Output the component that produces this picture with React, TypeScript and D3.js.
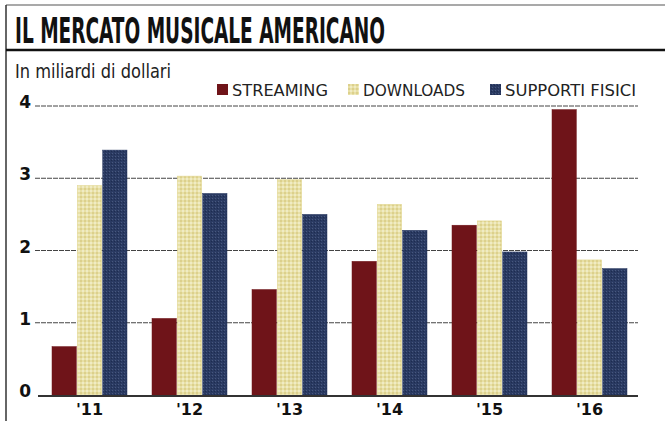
import React from "react";
import * as d3 from "d3";

const years = ["'11", "'12", "'13", "'14", "'15", "'16"];
const series = ["STREAMING", "DOWNLOADS", "SUPPORTI FISICI"];
const streaming = [0.67, 1.06, 1.46, 1.85, 2.35, 3.95];
const downloads = [2.9, 3.03, 2.98, 2.64, 2.41, 1.87];
const supporti = [3.39, 2.79, 2.5, 2.28, 1.98, 1.75];
const yTicks = [0, 1, 2, 3, 4];
const colors = ["#6f1419", "#e4d995", "#2a3a62"];
const fills = ["#6f1419", "url(#pat-dl)", "url(#pat-sf)"];

const W = 665;
const H = 421;
const NARROW = "'Liberation Sans Narrow', 'Arial Narrow', 'DejaVu Sans Condensed', 'Roboto', sans-serif";

export default function App() {
  const values = [streaming, downloads, supporti];
  const x = d3.scaleBand<string>().domain(years).range([27, 652]).paddingInner(0.25).paddingOuter(0.25);
  const xs = d3.scaleBand<string>().domain(series).range([0, x.bandwidth()]).paddingInner(0.04);
  const y = d3.scaleLinear().domain([0, 4]).range([395, 106]);

  const legendX = [217, 348, 490];
  const legendW = [96, 102, 131];

  return (
    <svg width={W} height={H} style={{ position: "absolute", left: 0, top: 0, background: "#fff" }}>
      <defs>
        <pattern id="pat-dl" width="4" height="4" patternUnits="userSpaceOnUse">
          <rect width="4" height="4" fill="#e8e0a6" />
          <rect width="2" height="2" fill="#dcd08c" />
          <rect x="2" y="2" width="2" height="2" fill="#f0ebc4" />
        </pattern>
        <pattern id="pat-sf" width="3" height="3" patternUnits="userSpaceOnUse">
          <rect width="3" height="3" fill="#2a3a62" />
          <rect width="1" height="1" fill="#48587e" />
          <rect x="2" y="1" width="1" height="1" fill="#1e2c4f" />
        </pattern>
      </defs>
      <rect width={W} height={H} fill="#fff" />
      {/* frame */}
      <line x1={6} x2={W} y1={5} y2={5} stroke="#555" strokeWidth={1.2} />
      <line x1={6} x2={6} y1={5} y2={H} stroke="#333" strokeWidth={1.5} />
      <line x1={6} x2={W} y1={50} y2={50} stroke="#111" strokeWidth={2.5} />
      <text x={15} y={43} fontFamily={NARROW} fontWeight="bold" fontSize={36} fill="#111"
        textLength={370} lengthAdjust="spacingAndGlyphs">IL MERCATO MUSICALE AMERICANO</text>
      <text x={15} y={78} fontFamily={NARROW} fontSize={20} fill="#222"
        textLength={156} lengthAdjust="spacingAndGlyphs">In miliardi di dollari</text>

      {/* legend */}
      {series.map((s, i) => (
        <g key={s}>
          <rect x={legendX[i]} y={84} width={11} height={11} fill={fills[i]} />
          <text x={legendX[i] + 15} y={96} fontFamily={NARROW} fontSize={16} fill="#222"
            textLength={legendW[i]} lengthAdjust="spacingAndGlyphs">{s}</text>
        </g>
      ))}

      {/* gridlines */}
      {yTicks.filter((t) => t > 0).map((t) => (
        <line key={t} x1={35} x2={638} y1={y(t)} y2={y(t)} stroke="#444" strokeWidth={1} strokeDasharray="5 1" />
      ))}
      {yTicks.map((t) => (
        <text key={t} x={31} y={y(t) + 2} textAnchor="end" fontFamily="'DejaVu Sans', sans-serif" fontWeight="bold"
          fontSize={17} fill="#111">{t}</text>
      ))}

      {/* bars */}
      {years.map((yr, gi) => (
        <g key={yr} transform={`translate(${x(yr)},0)`}>
          {series.map((s, si) => (
            <rect key={s} x={xs(s)} y={y(values[si][gi])} width={xs.bandwidth()}
              height={y(0) - y(values[si][gi])} fill={fills[si]} stroke={colors[si]} strokeWidth={0.5} />
          ))}
        </g>
      ))}

      {/* baseline */}
      <line x1={38} x2={638} y1={396} y2={396} stroke="#333" strokeWidth={2} />
      {years.map((yr) => (
        <text key={yr} x={(x(yr) as number) + x.bandwidth() / 2} y={415} textAnchor="middle"
          fontFamily="'DejaVu Sans', sans-serif" fontWeight="bold" fontSize={16} fill="#111">{yr}</text>
      ))}
    </svg>
  );
}
